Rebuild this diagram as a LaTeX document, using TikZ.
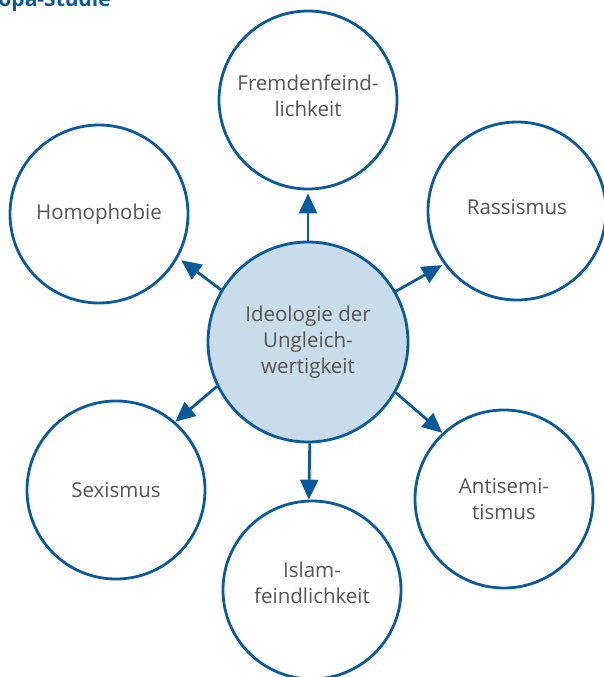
\documentclass[tikz,border=0pt]{standalone}
\usepackage{fontspec}
\setmainfont{Open Sans}
\usetikzlibrary{arrows.meta}
\definecolor{ringblue}{HTML}{0B5A9C}
\definecolor{corefill}{HTML}{C9DCE9}
\definecolor{labelgray}{HTML}{555555}
\tikzset{
  bubble/.style={circle, draw=ringblue, line width=2.8pt, fill=white,
    minimum size=178pt, inner sep=0pt, align=center, text=labelgray,
    font=\fontsize{20.5}{26}\selectfont},
  core/.style={bubble, fill=corefill, minimum size=200pt},
  link/.style={draw=ringblue, line width=2.8pt,
    -{Triangle[length=20pt,width=18pt]}}
}
\begin{document}
\begin{tikzpicture}[x=1pt,y=-1pt]
\useasboundingbox (0,0) rectangle (604,677);
\begin{scope}
\clip (0,0) rectangle (604,677);
% heading, cut by the page edge
\node[anchor=base east, inner sep=0pt, text=ringblue,
  font=\fontsize{21}{24}\selectfont\bfseries] (head) at (111,7) {Europa-Studie};

% central idea
\node[core] (c) at (308,342) {Ideologie der\\Ungleich-\\wertigkeit};

% surrounding forms
\node[bubble, text depth=8pt] (fr) at (308,100) {Fremdenfeind-\\lichkeit};
\node[bubble, text depth=8pt] (ra) at (517,211) {Rassismus};
\node[bubble] (ho) at (99,214) {Homophobie};
\node[bubble] (se) at (116,490) {Sexismus};
\node[bubble, text depth=14pt] (is) at (312,590) {Islam-\\feindlichkeit};
\node[bubble] (an) at (504,499) {Antisemi-\\tismus};

% links from the core
\draw[link, shorten >=3pt] (c.north) -- (fr.south);
\draw[link, shorten >=2pt] (c.30) -- (ra.216);
\draw[link, shorten >=4pt] (c.149) -- (ho.331);
\draw[link] (c.206) -- (se.49);
\draw[link] (c.-89) -- (is.92);
\draw[link] (c.-30) -- (an.133);
\end{scope}
\end{tikzpicture}
\end{document}
